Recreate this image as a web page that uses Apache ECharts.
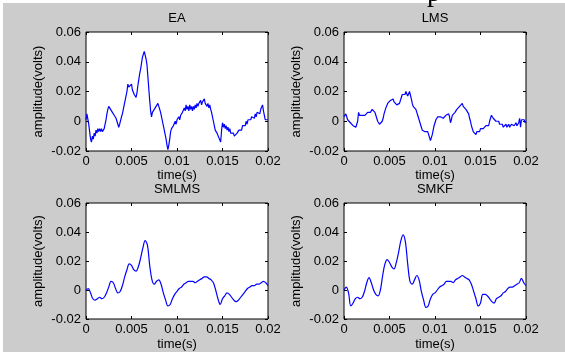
<!DOCTYPE html>
<html><head><meta charset="utf-8">
<script src="https://cdn.jsdelivr.net/npm/echarts@6/dist/echarts.min.js"></script>
<style>html,body{margin:0;padding:0;background:#fff;overflow:hidden}#wrap{position:relative;width:565px;height:352px;overflow:hidden}#c{width:565px;height:352px}
#frag{position:absolute;left:427px;top:-22px;font:28px/28px 'Liberation Serif',serif;color:#000;z-index:5}</style>
</head><body><div id="wrap"><div id="c"></div><span id="frag">p</span></div><script>
// ---- data ----
const titles = ['EA', 'LMS', 'SMLMS', 'SMKF'];
const xTickLabels = ['0', '0.005', '0.01', '0.015', '0.02'];
const yTickLabels = ['-0.02', '0', '0.02', '0.04', '0.06'];
const xName = 'time(s)';
const yName = 'amplitude(volts)';
// time in ms (axis labels show seconds)
const tFine = [0,0.1,0.2,0.3,0.4,0.5,0.6,0.7,0.8,0.9,
  1,1.1,1.2,1.3,1.4,1.5,1.6,1.7,1.8,1.9,
  2,2.1,2.2,2.3,2.4,2.5,2.6,2.7,2.8,2.9,
  3,3.1,3.2,3.3,3.4,3.5,3.6,3.7,3.8,3.9,
  4,4.1,4.2,4.3,4.4,4.5,4.6,4.7,4.8,4.9,
  5,5.1,5.2,5.3,5.4,5.5,5.6,5.7,5.8,5.9,
  6,6.1,6.2,6.3,6.4,6.5,6.6,6.7,6.8,6.9,
  7,7.1,7.2,7.3,7.4,7.5,7.6,7.7,7.8,7.9,
  8,8.1,8.2,8.3,8.4,8.5,8.6,8.7,8.8,8.9,
  9,9.1,9.2,9.3,9.4,9.5,9.6,9.7,9.8,9.9,
  10,10.1,10.2,10.3,10.4,10.5,10.6,10.7,10.8,10.9,
  11,11.1,11.2,11.3,11.4,11.5,11.6,11.7,11.8,11.9,
  12,12.1,12.2,12.3,12.4,12.5,12.6,12.7,12.8,12.9,
  13,13.1,13.2,13.3,13.4,13.5,13.6,13.7,13.8,13.9,
  14,14.1,14.2,14.3,14.4,14.5,14.6,14.7,14.8,14.9,
  15,15.1,15.2,15.3,15.4,15.5,15.6,15.7,15.8,15.9,
  16,16.1,16.2,16.3,16.4,16.5,16.6,16.7,16.8,16.9,
  17,17.1,17.2,17.3,17.4,17.5,17.6,17.7,17.8,17.9,
  18,18.1,18.2,18.3,18.4,18.5,18.6,18.7,18.8,18.9,
  19,19.1,19.2,19.3,19.4,19.5,19.6,19.7,19.8,19.9,
  20];
const tCoarse = [0,0.25,0.5,0.75,1,1.25,1.5,1.75,2,2.25,2.5,2.75,3,3.25,3.5,3.75,4,4.25,4.5,4.75,5,5.25,5.5,5.75,6,6.25,6.5,6.75,7,7.25,7.5,7.75,8,8.25,8.5,8.75,9,9.25,9.5,9.75,10,10.25,10.5,10.75,11,11.25,11.5,11.75,12,12.25,12.5,12.75,13,13.25,13.5,13.75,14,14.25,14.5,14.75,15,15.25,15.5,15.75,16,16.25,16.5,16.75,17,17.25,17.5,17.75,18,18.25,18.5,18.75,19,19.25,19.5,19.75,20];
// amplitudes in mV (axis labels show volts)
const ea = [1,5,6,-2,-7,-12,-14,-10,-12,-8,
  -10,-6,-8,-5,-7,-5,-7,-5,-7,-6,
  -5,-2,1,5,8,10,11,8,9,6,
  7,4,5,2,1,-2,-4,-2,-1,3,
  5,8,11,14,17,20,25,23,24,22,
  25,21,20,18,17,16,19,24,28,32,
  35,39,43,45,47,46,42,38,30,22,
  14,7,3,6,5,8,7,10,9,12,
  10,8,6,3,0,-3,-6,-9,-12,-16,
  -19,-16,-12,-7,-5,-6,-3,-4,0,-2,
  1,0,3,1,4,3,6,5,9,7,
  11,8,10,7,11,8,10,7,10,8,
  11,9,12,10,12,11,14,11,13,12,
  15,12,13,10,12,9,11,8,6,3,
  0,-3,-6,-5,-8,-9,-11,-12,-14,-6,
  -1,-4,-2,-5,-3,-6,-4,-7,-5,-8,
  -7,-9,-8,-10,-9,-11,-8,-9,-6,-7,
  -5,-6,-3,-4,-2,-3,0,-2,1,0,
  2,1,3,2,4,2,5,3,6,5,
  7,5,8,9,11,7,4,1,2,0,
  1];
const lms = [3,4,5,3,1,2,0,-1,-2,-1,
  -3,-4,-3,-4,-2,0,6,4,5,3,
  4,3,5,4,5,4,6,5,7,6,
  7,8,9,7,6,4,2,0,-1,-2,
  -1,-2,0,2,5,7,9,10,12,13,
  12,14,15,14,15,13,12,13,11,12,
  11,12,14,16,18,17,19,18,20,19,
  17,18,20,19,15,12,10,9,10,8,
  6,4,2,0,-2,-4,-6,-7,-5,-7,
  -6,-8,-7,-9,-11,-13,-12,-9,-6,-3,
  -1,1,2,3,2,4,3,2,3,2,
  3,2,4,5,4,5,3,-1,1,4,
  5,4,6,7,8,9,8,10,9,11,
  12,10,11,9,8,7,8,5,2,0,
  -3,-5,-7,-6,-8,-9,-7,-8,-6,-7,
  -5,-6,-4,-5,-4,-5,-3,-4,-2,-3,
  0,2,4,3,2,3,1,0,1,-1,
  0,-2,-1,-3,-2,-4,-3,-4,-2,-4,
  -3,-2,-4,-3,-2,-3,-1,-3,-2,-1,
  -3,-4,-1,2,-4,1,2,0,1,-1,
  0];
const smlms = [0,1,-2,-6,-7,-6,-5,-6,-5,-2,
  2,6,5,1,-2,-1,3,9,14,18,
  17,14,13,16,22,29,34,31,17,7,
  4,6,7,4,-2,-7,-11,-10,-6,-3,
  -1,1,2,4,5,6,6,6,5,6,
  7,8,9,9,8,7,5,0,-6,-10,
  -6,-4,-2,-3,-5,-7,-8,-7,-5,-3,
  -1,1,2,3,3,4,4,5,6,5,
  3];
const smkf = [0,2,-2,-11,-9,-6,-5,-6,-5,-1,
  5,8.5,5,0,-3,-4,0,10,18,21,
  19,16,14.5,19,26,34,38,33,18,6,
  4,7,10,7,-1,-7,-12,-11,-6,-3,
  -2,0,2,3,4,6,6,6,5,7,
  8,9,10,9,8,7,4,-1,-6,-11,
  -9,-3,-3,-4,-6,-8,-9,-6,-5,-4,
  -2,-1,1,2,2,3,4,5,8,5,
  3];

// ---- layout ----
const FONT = "'Liberation Sans', Arial, sans-serif";
const FS = 13;
const grids = [
  {left: 86, top: 32, width: 182, height: 119},
  {left: 344, top: 32, width: 182, height: 119},
  {left: 86, top: 203, width: 182, height: 118},
  {left: 344, top: 203, width: 182, height: 118}
];
const xNameGaps = [17, 17, 19, 19];
const seriesData = [[tFine, ea, false, 1.2], [tFine, lms, false, 1.2], [tCoarse, smlms, 0.35, 1.2], [tCoarse, smkf, 0.35, 1.2]];

const xAxes = [], yAxes = [], series = [], titleArr = [];
grids.forEach((g, i) => {
  const tick = {show: true, inside: true, length: 3, lineStyle: {color: '#000', width: 1}};
  const noLine = {show: false, onZero: false};
  xAxes.push({
    gridIndex: i, type: 'value', min: 0, max: 20, interval: 5, position: 'bottom',
    axisLine: noLine, axisTick: tick, splitLine: {show: false},
    axisLabel: {color: '#000', fontFamily: FONT, fontSize: FS, margin: 4,
      formatter: v => xTickLabels[Math.round(v / 5)]},
    name: xName, nameLocation: 'middle', nameGap: xNameGaps[i],
    nameTextStyle: {color: '#000', fontFamily: FONT, fontSize: FS}
  });
  xAxes.push({
    gridIndex: i, type: 'value', min: 0, max: 20, interval: 5, position: 'top',
    axisLine: noLine, axisTick: tick, splitLine: {show: false}, axisLabel: {show: false}
  });
  yAxes.push({
    gridIndex: i, type: 'value', min: -20, max: 60, interval: 20, position: 'left',
    axisLine: noLine, axisTick: tick, splitLine: {show: false},
    axisLabel: {color: '#000', fontFamily: FONT, fontSize: FS, margin: 5,
      formatter: v => yTickLabels[Math.round((v + 20) / 20)]},
    name: yName, nameLocation: 'middle', nameGap: 41,
    nameTextStyle: {color: '#000', fontFamily: FONT, fontSize: FS}
  });
  yAxes.push({
    gridIndex: i, type: 'value', min: -20, max: 60, interval: 20, position: 'right',
    axisLine: noLine, axisTick: tick, splitLine: {show: false}, axisLabel: {show: false}
  });
  const [tt, vv, sm, lw] = seriesData[i];
  series.push({
    type: 'line', xAxisIndex: i * 2, yAxisIndex: i * 2,
    data: tt.map((t, k) => [t, vv[k]]),
    showSymbol: false, smooth: sm, animation: false,
    lineStyle: {color: '#0000ff', width: lw}
  });
  titleArr.push({
    text: titles[i], left: g.left + g.width / 2, top: g.top - 20, textAlign: 'center', padding: 0,
    textStyle: {color: '#000', fontFamily: FONT, fontSize: FS, fontWeight: 'normal'}
  });
});

const chart = echarts.init(document.getElementById('c'), null, {renderer: 'canvas'});
chart.setOption({
  backgroundColor: '#cccccc',
  animation: false,
  title: titleArr,
  grid: grids.map(g => Object.assign({show: true, backgroundColor: '#fff', borderColor: '#000', borderWidth: 1}, g)),
  xAxis: xAxes,
  yAxis: yAxes,
  series: series,
  graphic: [
    {type: 'rect', shape: {x: 0, y: 0, width: 565, height: 3}, style: {fill: '#fff'}, z: 100, silent: true},
    {type: 'rect', shape: {x: 0, y: 0, width: 3, height: 352}, style: {fill: '#fff'}, z: 100, silent: true}
  ]
});
</script></body></html>
